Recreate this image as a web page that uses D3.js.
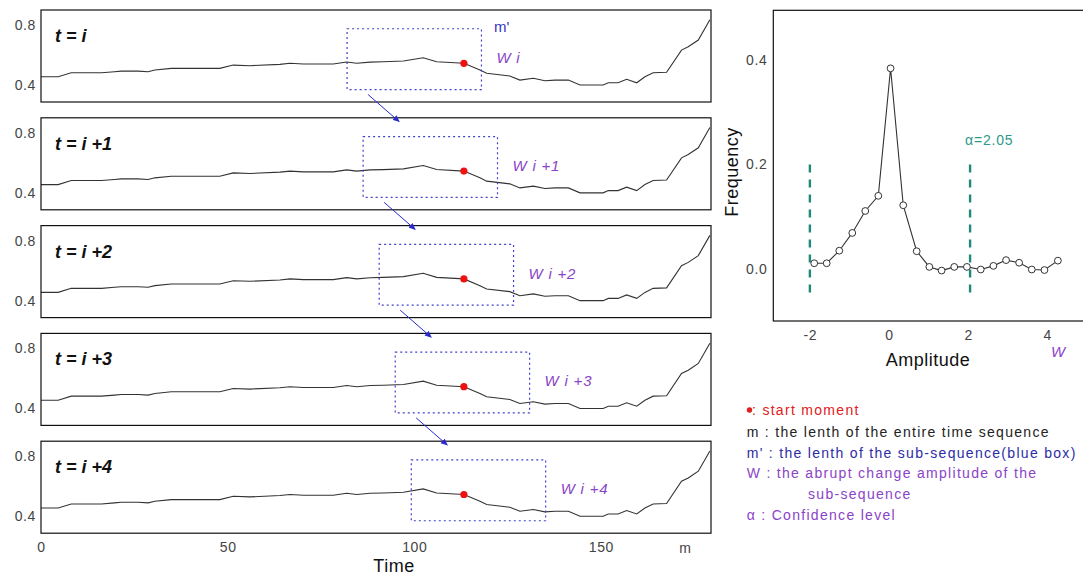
<!DOCTYPE html>
<html>
<head>
<meta charset="utf-8">
<script src="https://cdn.jsdelivr.net/npm/d3@7"></script>
<style>
body { margin: 0; background: #fff; }
text { font-family: "Liberation Sans", Arial, sans-serif; }
</style>
</head>
<body>
<svg id="chart" width="1083" height="576"></svg>
<script>
// time sequence (same curve drawn in every panel)
var seriesT = [0, 4.6, 8.1, 16.2, 19.7, 21.5, 26, 28.7, 30.5, 34.9, 44.7, 47.9, 51.5, 56, 64, 66.7, 70.3, 78.3, 81.9, 84.6,
    88.2, 91.7, 97.1, 102.4, 106, 113.3, 117.6, 119.4, 125.6, 128.3, 131.9, 135, 137.7, 141.3, 144.4, 150.6, 152, 154.6, 156.9, 159.6,
    161.8, 164, 167.6, 171.6, 173.4, 176.1, 179.2];
var seriesV = [0.455, 0.455, 0.482, 0.482, 0.489, 0.493, 0.493, 0.489, 0.5, 0.511, 0.511, 0.511, 0.533, 0.529, 0.538, 0.545, 0.54, 0.54, 0.553, 0.545,
    0.553, 0.555, 0.56, 0.582, 0.555, 0.545, 0.5, 0.478, 0.46, 0.433, 0.445, 0.429, 0.433, 0.433, 0.4, 0.4, 0.415, 0.415, 0.438, 0.415,
    0.455, 0.482, 0.485, 0.633, 0.655, 0.7, 0.835];
var startT = 113.3, startV = 0.545;

var panelLabels = ["t = i", "t = i +1", "t = i +2", "t = i +3", "t = i +4"];
var windowLabels = ["W i", "W i +1", "W i +2", "W i +3", "W i +4"];
var boxStart = [82, 86.3, 90.6, 94.9, 99.2];
var boxLen = 36;
var boxTop = 0.775, boxBottom = 0.37;
var yTicks = [0.4, 0.8];
var timeTicks = [0, 50, 100, 150];

// frequency of amplitude W
var ampX = [-1.89, -1.575, -1.257, -0.928, -0.6, -0.27, 0.04, 0.36, 0.7, 1.02, 1.33, 1.65, 1.97, 2.32, 2.64, 2.96, 3.29, 3.61, 3.93, 4.27];
var freqY = [0.011, 0.011, 0.035, 0.069, 0.111, 0.14, 0.384, 0.122, 0.034, 0.004, -0.003, 0.004, 0.004, -0.001, 0.006, 0.017, 0.012, -0.001, -0.002, 0.016];
var confLines = [-2, 2.05];
var confRange = [-0.053, 0.2];
var ampTicks = [-2, 0, 2, 4];
var freqTicks = [0, 0.2, 0.4];

var legendLines = [
    {text: ": start moment", color: "#e02020", dot: true},
    {text: "m : the lenth of the entire time sequence", color: "#222"},
    {text: "m' : the lenth of the sub-sequence(blue box)", color: "#2c2ca6"},
    {text: "W : the abrupt change amplitude of the", color: "#8a44c8"},
    {text: "sub-sequence", color: "#8a44c8", indent: true},
    {text: "\u03b1 : Confidence level", color: "#8a44c8"}
];

var svg = d3.select("#chart");
var x = d3.scaleLinear().domain([0, 179.5]).range([41, 711]);
var panelH = 92, panelGap = 107.8, panelTop0 = 10;

svg.append("defs").append("marker")
    .attr("id", "arr")
    .attr("viewBox", "0 0 8 8")
    .attr("refX", 7).attr("refY", 4)
    .attr("markerWidth", 7).attr("markerHeight", 7)
    .attr("markerUnits", "userSpaceOnUse")
    .attr("orient", "auto")
    .append("path").attr("d", "M0,0.5 L8,4 L0,7.5 z").attr("fill", "#2a2ad0");

var line = d3.line()
    .x(function(d, i) { return x(seriesT[i]); })
    .y(function(d) { return d; });

function styleTicks(sel) {
    sel.select(".domain").remove();
    sel.selectAll("text").attr("font-size", 14).attr("fill", "#444").attr("letter-spacing", 0.6)
        .attr("font-family", "Liberation Sans, Arial, sans-serif");
}

var arrows = [];

panelLabels.forEach(function(lab, i) {
    var top = panelTop0 + i * panelGap;
    var y = d3.scaleLinear().domain([0.287, 0.9]).range([top + panelH, top]);
    var g = svg.append("g");

    g.append("path")
        .attr("d", line(seriesV.map(function(v) { return y(v); })))
        .attr("fill", "none")
        .attr("stroke", "#333")
        .attr("stroke-width", 1.1);

    g.append("rect")
        .attr("x", x.range()[0]).attr("y", top)
        .attr("width", x.range()[1] - x.range()[0]).attr("height", panelH)
        .attr("fill", "none").attr("stroke", "#111").attr("stroke-width", 1.2);

    g.append("rect")
        .attr("x", x(boxStart[i])).attr("y", y(boxTop))
        .attr("width", x(boxStart[i] + boxLen) - x(boxStart[i]))
        .attr("height", y(boxBottom) - y(boxTop))
        .attr("fill", "none").attr("stroke", "#4040cc")
        .attr("stroke-width", 1.2).attr("stroke-dasharray", "2,3");

    g.append("circle")
        .attr("cx", x(startT)).attr("cy", y(startV)).attr("r", 3.6)
        .attr("fill", "#ee1111");

    g.append("text")
        .attr("x", 55).attr("y", top + 32)
        .attr("font-size", 18).attr("font-weight", "bold").attr("font-style", "italic")
        .attr("fill", "#111")
        .text(lab);

    g.append("text")
        .attr("x", x(boxStart[i] + boxLen) + 15).attr("y", top + 53)
        .attr("font-size", 15).attr("font-style", "italic").attr("letter-spacing", 0.8)
        .attr("fill", "#8a44c8")
        .text(windowLabels[i]);

    g.append("g")
        .attr("transform", "translate(" + x.range()[0] + ",0)")
        .call(d3.axisLeft(y).tickValues(yTicks).tickSize(0).tickPadding(5).tickFormat(d3.format(".1f")))
        .call(styleTicks);

    if (i === 0) {
        g.append("text")
            .attr("x", 494).attr("y", top + 22)
            .attr("font-size", 15).attr("fill", "#3535c0")
            .text("m'");
    }
    if (i < panelLabels.length - 1) {
        var sx = x(boxStart[i]) + 21, sy = y(boxBottom) + 5;
        arrows.push([sx, sy, sx + 31, sy + 27]);
    }
    if (i === panelLabels.length - 1) {
        g.append("g")
            .attr("transform", "translate(0," + (top + panelH) + ")")
            .call(d3.axisBottom(x).tickValues(timeTicks).tickSize(0).tickPadding(9).tickFormat(function(d) { return String(d); }))
            .call(styleTicks);
        g.append("text")
            .attr("x", 685).attr("y", top + panelH + 19.5)
            .attr("text-anchor", "middle").attr("font-size", 14).attr("fill", "#444")
            .text("m");
        g.append("text")
            .attr("x", 394).attr("y", top + panelH + 39)
            .attr("text-anchor", "middle").attr("font-size", 18).attr("letter-spacing", 0.5)
            .attr("fill", "#111")
            .text("Time");
    }
});

svg.selectAll(".arrow")
    .data(arrows)
    .enter()
    .append("line")
    .attr("class", "arrow")
    .attr("x1", function(d) { return d[0]; })
    .attr("y1", function(d) { return d[1]; })
    .attr("x2", function(d) { return d[2]; })
    .attr("y2", function(d) { return d[3]; })
    .attr("stroke", "#2a2ad0")
    .attr("stroke-width", 1)
    .attr("marker-end", "url(#arr)");

// Right: frequency chart
var ax2 = d3.scaleLinear().domain([-2.925, 4.905]).range([773.3, 1083]);
var ay2 = d3.scaleLinear().domain([-0.0995, 0.495]).range([321, 10.3]);
var fg = svg.append("g");

fg.append("rect")
    .attr("x", 773.3).attr("y", 10.3)
    .attr("width", 330).attr("height", 321 - 10.3)
    .attr("fill", "none").attr("stroke", "#111").attr("stroke-width", 1.2);

fg.selectAll(".conf")
    .data(confLines)
    .enter()
    .append("line")
    .attr("class", "conf")
    .attr("x1", function(d) { return ax2(d); })
    .attr("x2", function(d) { return ax2(d); })
    .attr("y1", ay2(confRange[1]))
    .attr("y2", ay2(confRange[0]))
    .attr("stroke", "#1f8a7a")
    .attr("stroke-width", 2.4)
    .attr("stroke-dasharray", "8,7");

fg.append("text")
    .attr("x", ax2(confLines[1]) - 5).attr("y", 145)
    .attr("font-size", 14).attr("letter-spacing", 0.8).attr("fill", "#2a9a8a")
    .text("\u03b1=2.05");

fg.append("path")
    .attr("d", d3.line().x(function(d, i) { return ax2(ampX[i]); }).y(function(d) { return ay2(d); })(freqY))
    .attr("fill", "none").attr("stroke", "#333").attr("stroke-width", 1.1);

fg.selectAll(".pt")
    .data(freqY)
    .enter()
    .append("circle")
    .attr("class", "pt")
    .attr("cx", function(d, i) { return ax2(ampX[i]); })
    .attr("cy", function(d) { return ay2(d); })
    .attr("r", 3.4)
    .attr("fill", "#fff").attr("stroke", "#333").attr("stroke-width", 1);

fg.append("g")
    .attr("transform", "translate(0,321)")
    .call(d3.axisBottom(ax2).tickValues(ampTicks).tickSize(0).tickPadding(9).tickFormat(function(d) { return String(d); }))
    .call(styleTicks);

fg.append("g")
    .attr("transform", "translate(773.3,0)")
    .call(d3.axisLeft(ay2).tickValues(freqTicks).tickSize(0).tickPadding(6).tickFormat(d3.format(".1f")))
    .call(styleTicks);

fg.append("text")
    .attr("x", 928).attr("y", 366)
    .attr("text-anchor", "middle").attr("font-size", 18).attr("letter-spacing", 0.5).attr("fill", "#111")
    .text("Amplitude");

fg.append("text")
    .attr("transform", "translate(738,172) rotate(-90)")
    .attr("text-anchor", "middle").attr("font-size", 18).attr("letter-spacing", 0.5).attr("fill", "#111")
    .text("Frequency");

fg.append("text")
    .attr("x", 1051).attr("y", 357)
    .attr("font-size", 15).attr("font-style", "italic").attr("fill", "#8a44c8")
    .text("W");

// Legend
var legendY = [415, 436.5, 458, 478, 499, 520];
legendLines.forEach(function(l, i) {
    var lx = l.indent ? 808 : 746.7;
    if (l.dot) {
        svg.append("circle").attr("cx", 749.5).attr("cy", legendY[i] - 5).attr("r", 2.7).attr("fill", l.color);
        lx = 752;
    }
    svg.append("text")
        .attr("x", lx).attr("y", legendY[i])
        .attr("font-size", 14).attr("letter-spacing", 1.3)
        .attr("fill", l.color)
        .text(l.text);
});
</script>
</body>
</html>
